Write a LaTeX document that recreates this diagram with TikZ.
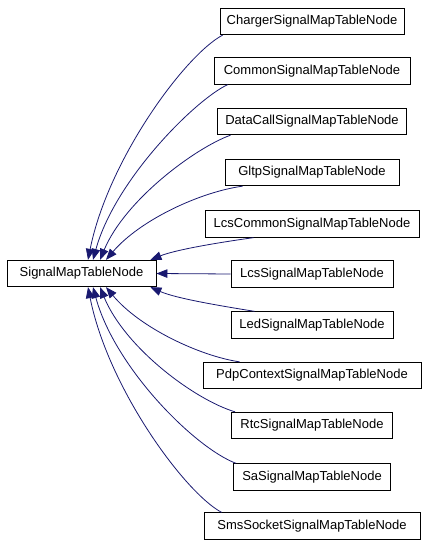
\documentclass[tikz,border=0pt]{standalone}
\usepackage{fontspec}
\setmainfont{Liberation Sans}
\usetikzlibrary{arrows.meta}
\definecolor{edgeblue}{HTML}{191970}
\begin{document}
\begin{tikzpicture}[x=1bp,y=-1bp,
  cls/.style={draw=black, line width=0.8bp, fill=white, minimum height=26.5bp, inner sep=0pt,
    font=\fontsize{13bp}{15bp}\selectfont, anchor=center},
  edge/.style={draw=edgeblue, line width=0.8bp, -{Triangle[length=11bp,width=8.5bp]}}]
\useasboundingbox (0,0) rectangle (435,547);
\node[cls, minimum width=149bp] (base) at (81.5,273.5) {SignalMapTableNode};
\node[cls, minimum width=184bp] (charger) at (312,21.5) {ChargerSignalMapTableNode};
\node[cls, minimum width=196bp] (common) at (312,71) {CommonSignalMapTableNode};
\node[cls, minimum width=189bp] (datacall) at (312,121.5) {DataCallSignalMapTableNode};
\node[cls, minimum width=174bp] (gltp) at (312,172.5) {GltpSignalMapTableNode};
\node[cls, minimum width=214bp] (lcscommon) at (312,224) {LcsCommonSignalMapTableNode};
\node[cls, minimum width=162bp] (lcssignal) at (312,274) {LcsSignalMapTableNode};
\node[cls, minimum width=162bp] (led) at (312,325) {LedSignalMapTableNode};
\node[cls, minimum width=218bp] (pdp) at (312,375.5) {PdpContextSignalMapTableNode};
\node[cls, minimum width=161bp] (rtc) at (312,425.5) {RtcSignalMapTableNode};
\node[cls, minimum width=157bp] (sa) at (312,477) {SaSignalMapTableNode};
\node[cls, minimum width=216bp] (sms) at (312,526) {SmsSocketSignalMapTableNode};

\draw[edge] ([xshift=3bp]charger.south west) .. controls (185,55) and (108,160) .. ([xshift=6.5bp]base.north);
\draw[edge] ([xshift=14bp]common.south west) .. controls (195,100) and (115,180) .. ([xshift=11.5bp]base.north);
\draw[edge] ([xshift=13.5bp]datacall.south west) .. controls (195,148) and (125,200) .. ([xshift=18.5bp]base.north);
\draw[edge] ([xshift=18bp]gltp.south west) .. controls (200,192) and (140,220) .. ([xshift=24.5bp]base.north);
\draw[edge] ([xshift=49bp]lcscommon.south west) .. controls (215,243) and (175,250) .. ([xshift=-6bp]base.north east);
\draw[edge] (lcssignal.west) -- (base.east);
\draw[edge] ([xshift=24bp]led.north west) .. controls (215,305) and (175,298) .. ([xshift=-6bp]base.south east);
\draw[edge] ([xshift=37bp]pdp.north west) .. controls (200,356) and (140,328) .. ([xshift=24.5bp]base.south);
\draw[edge] ([xshift=4bp]rtc.north west) .. controls (195,400) and (125,348) .. ([xshift=18.5bp]base.south);
\draw[edge] ([xshift=3bp]sa.north west) .. controls (195,448) and (115,368) .. ([xshift=11.5bp]base.south);
\draw[edge] ([xshift=18bp]sms.north west) .. controls (185,493) and (108,388) .. ([xshift=6.5bp]base.south);
\end{tikzpicture}
\end{document}
